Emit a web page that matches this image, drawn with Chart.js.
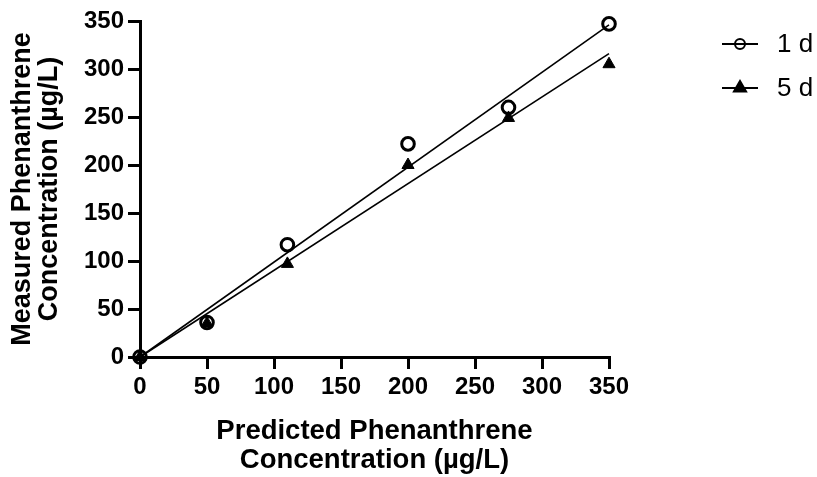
<!DOCTYPE html>
<html>
<head>
<meta charset="utf-8">
<script src="https://cdn.jsdelivr.net/npm/chart.js@4.4.1/dist/chart.umd.min.js"></script>
<style>
  html, body { margin: 0; padding: 0; background: #fff; }
  #wrap { width: 817px; height: 477px; }
</style>
</head>
<body>
<div id="wrap"><canvas id="chart" width="817" height="477"></canvas></div>
<script>
'use strict';

/* ─── Data ─────────────────────────────────────────────────── */
const predicted  = [0, 50, 110, 200, 275, 350];
const measured1d = [0, 36, 117, 222, 260, 347];
const measured5d = [0, 35, 97, 200, 249, 305];

// fitted lines (end points)
const fitX   = [0, 350];
const fit1d  = [0, 346];
const fit5d  = [0, 316];

const xTicks = [0, 50, 100, 150, 200, 250, 300, 350];
const yTicks = [0, 50, 100, 150, 200, 250, 300, 350];

const FONT = '"Liberation Sans", Arial, Helvetica, sans-serif';

const pts = (xs, ys) => xs.map((x, i) => ({ x, y: ys[i] }));

/* ─── Legend drawn by hand (line + marker) ─────────────────── */
const sideLegend = {
  id: 'sideLegend',
  afterDraw(chart) {
    const ctx = chart.ctx;
    const items = [
      { label: '1 d', ds: chart.data.datasets[2], y: 44, r: 5 },
      { label: '5 d', ds: chart.data.datasets[3], y: 88, r: 7 },
    ];
    ctx.save();
    items.forEach(it => {
      ctx.strokeStyle = '#000';
      ctx.lineWidth = 2;
      ctx.beginPath();
      ctx.moveTo(722, it.y);
      ctx.lineTo(758, it.y);
      ctx.stroke();
      ctx.fillStyle = it.ds.pointBackgroundColor;
      ctx.strokeStyle = '#000';
      Chart.helpers.drawPoint(ctx, {
        pointStyle: it.ds.pointStyle,
        radius: it.r,
        borderWidth: it.ds.pointBorderWidth,
      }, 740, it.y);
      ctx.fillStyle = '#000';
      ctx.font = '26px ' + FONT;
      ctx.textBaseline = 'middle';
      ctx.fillText(it.label, 777, it.y + 1);
    });
    ctx.restore();
  }
};

/* ─── Chart ────────────────────────────────────────────────── */
const ctx = document.getElementById('chart');

new Chart(ctx, {
  type: 'scatter',
  data: {
    datasets: [
      {
        label: 'fit 1 d', data: pts(fitX, fit1d), showLine: true,
        borderColor: '#000', borderWidth: 1.6, pointRadius: 0, clip: false,
      },
      {
        label: 'fit 5 d', data: pts(fitX, fit5d), showLine: true,
        borderColor: '#000', borderWidth: 1.6, pointRadius: 0, clip: false,
      },
      {
        label: '1 d', data: pts(predicted, measured1d),
        pointStyle: 'circle', pointRadius: 6.3, pointBorderWidth: 3,
        borderColor: '#000', backgroundColor: 'rgba(0,0,0,0)',
        pointBackgroundColor: 'rgba(0,0,0,0)', pointBorderColor: '#000', clip: false,
      },
      {
        label: '5 d', data: pts(predicted, measured5d),
        pointStyle: 'triangle', pointRadius: 7, pointBorderWidth: 1,
        borderColor: '#000', backgroundColor: '#000',
        pointBackgroundColor: '#000', pointBorderColor: '#000', clip: false,
      },
    ]
  },
  options: {
    responsive: false,
    animation: false,
    events: [],
    layout: { padding: { left: 0, right: 208, top: 21, bottom: 0 } },
    plugins: { legend: { display: false }, tooltip: { enabled: false } },
    scales: {
      x: {
        type: 'linear', min: 0, max: 350,
        afterBuildTicks: ax => { ax.ticks = xTicks.map(v => ({ value: v })); },
        afterFit: ax => { ax.height = 120; },
        border: { display: true, color: '#000', width: 3 },
        grid: { drawOnChartArea: false, color: '#000', lineWidth: 3, tickLength: 12 },
        ticks: { color: '#000', padding: 4, font: { family: FONT, size: 24, weight: 'bold' } },
        title: {
          display: true, text: ['Predicted Phenanthrene', 'Concentration (µg/L)'],
          color: '#000', padding: { top: 0, bottom: 2 },
          font: { family: FONT, size: 27.5, weight: 'bold', lineHeight: 1.05 }
        }
      },
      y: {
        type: 'linear', min: 0, max: 350,
        afterBuildTicks: ax => { ax.ticks = yTicks.map(v => ({ value: v })); },
        afterFit: ax => { ax.width = 140; },
        border: { display: true, color: '#000', width: 3 },
        grid: { drawOnChartArea: false, color: '#000', lineWidth: 3, tickLength: 12 },
        ticks: { color: '#000', padding: 4, font: { family: FONT, size: 24, weight: 'bold' } },
        title: {
          display: true, text: ['Measured Phenanthrene', 'Concentration (µg/L)'],
          color: '#000', padding: { top: 9, bottom: 0 },
          font: { family: FONT, size: 27, weight: 'bold', lineHeight: 1.0 }
        }
      }
    }
  },
  plugins: [sideLegend]
});
</script>
</body>
</html>
